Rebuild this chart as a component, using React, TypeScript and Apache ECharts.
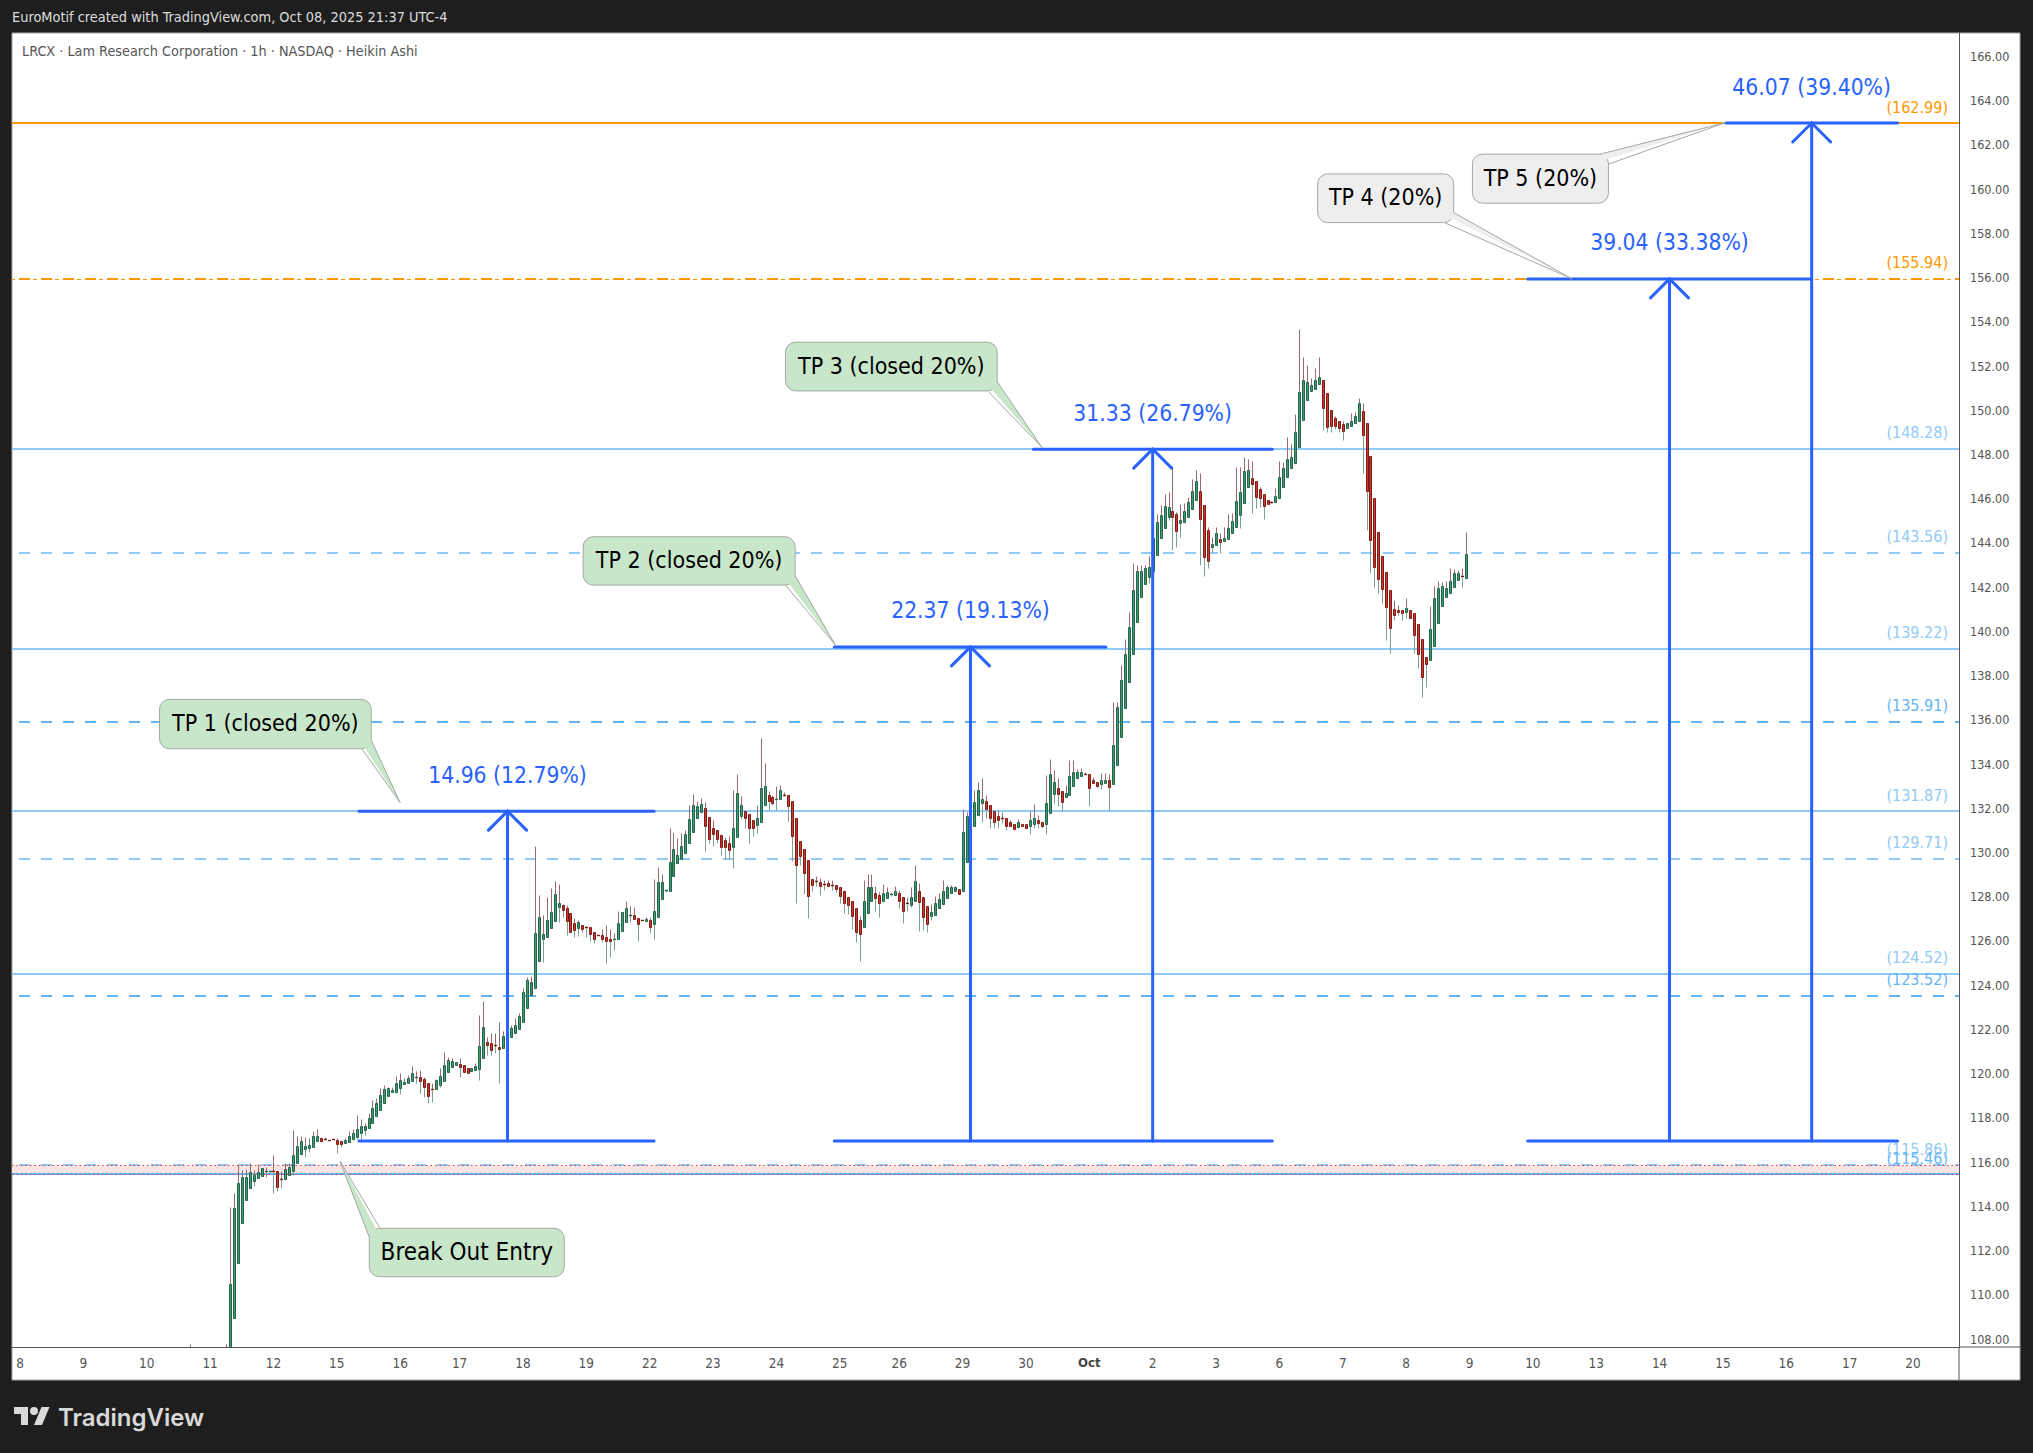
import React, { useEffect, useRef } from 'react';
import * as echarts from 'echarts';

// one bar is one hour, 16 bars per session. 0 is the first bar of Sep 8
const sessionStarts = [0, 16, 32, 48, 64, 80, 96, 111, 127, 143, 159, 175, 191, 207, 222, 238, 254, 270, 286, 302, 318, 334, 350, 366, 382, 398, 414, 430, 446, 462, 478];
const sessionLabels = ['8', '9', '10', '11', '12', '15', '16', '17', '18', '19', '22', '23', '24', '25', '26', '29', '30', 'Oct', '2', '3', '6', '7', '8', '9', '10', '13', '14', '15', '16', '17', '20'];
const priceTicks = [108, 110, 112, 114, 116, 118, 120, 122, 124, 126, 128, 130, 132, 134, 136, 138, 140, 142, 144, 146, 148, 150, 152, 154, 156, 158, 160, 162, 164, 166];

const firstBar = 52;
// [open, close, low, high]
const barsSepA = [
  [107.0, 107.2, 106.5, 107.76], [107.0, 110.47, 107.0, 113.95], [108.93, 113.91, 108.93, 114.59], [111.42, 115.04, 111.42, 115.91],
  [113.23, 115.31, 113.23, 115.64], [114.28, 115.34, 114.28, 115.7], [114.81, 115.54, 114.81, 115.94], [115.16, 115.41, 114.93, 115.64],
  [115.26, 115.54, 115.26, 115.9], [115.38, 115.72, 115.38, 115.72], [115.58, 115.58, 115.35, 115.78], [115.58, 115.58, 115.55, 115.6],
  [115.58, 115.57, 114.62, 116.32], [115.58, 114.89, 114.71, 115.58], [115.22, 115.21, 114.81, 115.6], [115.22, 115.67, 115.2, 115.94],
  [115.41, 115.76, 115.41, 115.94], [115.61, 116.32, 115.41, 117.45], [115.94, 116.73, 115.94, 117.18], [116.35, 116.94, 116.35, 117.18],
  [116.61, 116.73, 116.24, 117.12], [116.64, 116.77, 116.47, 117.07], [116.7, 117.18, 116.7, 117.4], [116.94, 117.18, 116.94, 117.48],
  [117.07, 116.95, 116.9, 117.15], [117.03, 117.02, 117.0, 117.15], [117.0, 116.97, 116.97, 117.0], [117.04, 117.03, 117.03, 117.05],
  [116.98, 116.83, 116.42, 117.07], [116.94, 116.83, 116.7, 116.94], [116.88, 116.98, 116.88, 117.1], [116.92, 117.18, 116.92, 117.42],
  [117.06, 117.33, 117.0, 117.48], [117.15, 117.48, 117.03, 118.13], [117.33, 117.63, 117.06, 117.95], [117.45, 117.63, 117.22, 117.78],
  [117.53, 117.98, 117.53, 118.2], [117.75, 118.46, 117.75, 118.81], [118.1, 118.66, 118.1, 118.88], [118.35, 119.03, 118.35, 119.33],
  [118.69, 119.29, 118.69, 119.49], [119.0, 119.33, 119.0, 119.4], [119.15, 119.26, 119.15, 119.38], [119.18, 119.56, 119.18, 119.89],
  [119.33, 119.71, 119.08, 120.04], [119.55, 119.62, 119.55, 119.8], [119.56, 119.79, 119.56, 119.94], [119.68, 120.01, 119.68, 120.36],
  [119.83, 119.84, 119.56, 120.13], [119.83, 119.67, 119.14, 120.16], [119.77, 119.38, 118.96, 119.83], [119.56, 118.99, 118.69, 119.56],
  [119.29, 119.28, 118.73, 119.56], [119.29, 119.71, 119.29, 119.78], [119.49, 119.91, 119.38, 120.24], [119.68, 120.39, 119.68, 120.96],
  [120.06, 120.62, 120.06, 120.74], [120.31, 120.56, 120.31, 120.69], [120.4, 120.51, 120.4, 120.55], [120.46, 120.28, 119.86, 120.69],
  [120.39, 120.06, 120.06, 120.39], [120.24, 120.04, 120.04, 120.24], [120.13, 120.25, 120.13, 120.25], [120.18, 120.33, 120.18, 120.47],
  [120.22, 121.23, 119.71, 122.65], [120.72, 122.09, 120.72, 123.3], [121.42, 121.31, 120.84, 121.67], [121.37, 121.07, 120.84, 121.82],
  [121.3, 121.29, 120.92, 121.82], [121.22, 121.11, 119.59, 122.35], [121.15, 121.7, 121.15, 121.94], [121.4, 121.94, 121.4, 122.12],
  [121.67, 122.05, 121.67, 122.2], [121.85, 122.2, 121.85, 122.5], [122.0, 122.6, 122.0, 122.73],
];
const barsSepB = [
  [122.32, 123.68, 122.32, 123.86], [122.99, 124.24, 122.99, 124.35], [123.56, 124.13, 123.56, 124.41], [123.86, 126.35, 123.86, 130.3],
  [125.11, 127.07, 125.11, 128.08], [126.07, 126.3, 125.06, 127.17], [126.2, 126.95, 126.2, 128.0], [126.57, 127.29, 126.57, 128.38],
  [126.92, 128.11, 126.92, 128.71], [127.52, 127.73, 126.87, 128.56], [127.64, 127.4, 127.1, 127.67], [127.5, 126.92, 126.27, 127.63],
  [127.25, 126.39, 126.39, 127.25], [126.8, 126.5, 126.2, 127.02], [126.6, 126.84, 126.24, 126.95], [126.74, 126.56, 126.42, 126.74],
  [126.65, 126.57, 126.2, 126.7], [126.62, 126.3, 126.01, 126.62], [126.42, 126.07, 125.92, 126.42], [126.25, 126.24, 126.24, 126.25],
  [126.25, 126.1, 125.97, 126.53], [126.16, 126.01, 125.02, 126.72], [126.07, 125.98, 125.26, 126.53], [126.04, 126.07, 125.59, 126.37],
  [126.07, 126.8, 126.07, 127.35], [126.44, 127.3, 126.44, 127.3], [126.84, 127.47, 126.84, 127.81], [127.17, 127.18, 126.87, 127.58],
  [127.16, 126.98, 126.98, 127.55], [127.05, 126.78, 126.01, 127.05], [126.93, 126.92, 126.9, 126.95], [126.92, 126.98, 126.92, 127.1],
  [126.95, 126.65, 126.37, 127.1], [126.78, 127.34, 126.1, 128.79], [127.07, 128.65, 127.07, 129.36], [127.88, 128.65, 127.88, 129.03],
  [128.29, 128.3, 128.23, 128.3], [128.26, 129.56, 128.26, 131.09], [128.92, 130.14, 128.92, 130.91], [129.51, 129.87, 129.51, 130.64],
  [129.69, 130.28, 129.69, 130.87], [129.96, 130.82, 129.96, 131.02], [130.42, 131.5, 130.42, 132.15], [130.94, 132.15, 130.94, 132.65],
  [131.55, 132.09, 131.55, 132.35], [131.82, 132.18, 131.82, 132.45], [132.0, 131.22, 130.08, 132.3], [131.59, 130.6, 130.41, 131.59],
];
const barsSepC = [
  [131.09, 130.86, 130.29, 131.46], [131.01, 130.62, 130.41, 131.01], [130.81, 130.26, 129.88, 130.85], [130.56, 130.26, 129.7, 130.71],
  [130.41, 130.12, 129.7, 130.74], [130.26, 131.13, 129.31, 132.82], [130.71, 132.67, 130.71, 133.57], [131.67, 132.13, 131.5, 132.55],
  [131.9, 131.57, 131.13, 131.9], [131.76, 131.12, 130.44, 131.76], [131.46, 131.12, 130.74, 131.46], [131.25, 131.54, 130.89, 132.14],
  [131.4, 132.94, 131.4, 135.16], [132.16, 133.03, 132.16, 134.04], [132.62, 132.35, 131.92, 132.77], [132.49, 132.25, 132.16, 132.6],
  [132.38, 132.44, 131.92, 132.99], [132.4, 132.85, 132.4, 133.04], [132.62, 132.61, 132.55, 132.75], [132.62, 132.11, 131.43, 132.62],
  [132.35, 130.75, 129.62, 132.35], [131.58, 129.44, 127.72, 131.58], [130.5, 129.85, 129.44, 130.5], [130.18, 129.08, 128.12, 130.18],
  [129.64, 128.04, 127.04, 129.64], [128.82, 128.54, 128.27, 128.82], [128.73, 128.72, 128.5, 128.93], [128.69, 128.49, 128.09, 128.87],
  [128.58, 128.57, 128.3, 128.75], [128.6, 128.49, 128.49, 128.75], [128.55, 128.54, 128.3, 128.75], [128.55, 128.35, 128.2, 128.55],
  [128.46, 128.04, 127.72, 128.46], [128.24, 127.72, 127.27, 128.3], [128.01, 127.62, 127.2, 128.01], [127.83, 127.13, 126.53, 127.83],
  [127.51, 126.41, 125.96, 127.51], [126.97, 126.32, 125.1, 127.15], [126.65, 127.83, 126.65, 128.75], [127.25, 128.46, 127.25, 129.05],
  [127.83, 128.46, 127.83, 129.05], [128.15, 127.95, 127.35, 128.48], [128.06, 127.72, 127.08, 128.2], [127.83, 128.15, 127.75, 128.57],
  [127.95, 128.2, 127.95, 128.42], [128.1, 128.11, 128.05, 128.2], [128.1, 128.24, 128.1, 128.48], [128.15, 127.83, 127.5, 128.3],
  [128.01, 127.36, 126.81, 128.01], [127.7, 127.69, 127.35, 127.98], [127.63, 127.97, 127.54, 128.42], [127.83, 128.73, 127.83, 129.44],
  [128.28, 127.77, 126.43, 128.64], [128.01, 127.09, 126.48, 128.01], [127.56, 126.77, 126.39, 127.56], [127.13, 127.32, 126.94, 127.67],
  [127.18, 127.74, 127.18, 128.03], [127.5, 127.92, 127.5, 128.15], [127.69, 128.24, 127.69, 128.75], [127.95, 128.42, 127.95, 128.53],
  [128.18, 128.42, 128.18, 128.53], [128.27, 128.42, 128.27, 128.5], [128.36, 128.13, 128.13, 128.36], [128.27, 130.91, 128.27, 131.99],
  [129.59, 131.67, 129.59, 131.85], [130.69, 131.79, 130.69, 131.99], [131.19, 132.28, 131.19, 132.85], [131.72, 132.85, 131.72, 133.2],
  [132.25, 132.4, 131.39, 133.39], [132.35, 131.98, 131.58, 132.59], [132.17, 131.57, 131.12, 132.17], [131.87, 131.39, 131.12, 131.87],
  [131.63, 131.48, 131.12, 131.92], [131.58, 131.57, 131.33, 131.84], [131.58, 131.21, 131.01, 131.58], [131.4, 131.22, 131.22, 131.46],
  [131.31, 131.07, 131.01, 131.31], [131.16, 131.4, 131.1, 131.51], [131.31, 131.21, 131.21, 131.31], [131.27, 131.12, 131.12, 131.27],
  [131.21, 131.45, 130.83, 131.87], [131.28, 131.54, 131.13, 132.19], [131.45, 131.34, 131.09, 131.69], [131.4, 131.21, 131.09, 131.4],
  [131.3, 132.26, 130.83, 133.5], [131.79, 133.57, 131.79, 134.22], [132.65, 133.17, 132.23, 133.72], [132.94, 132.65, 132.1, 133.35],
  [132.8, 132.29, 131.87, 132.8], [132.52, 132.71, 132.52, 133.05], [132.62, 133.44, 132.62, 134.18], [133.02, 133.62, 133.02, 134.18],
  [133.35, 133.62, 133.35, 133.8], [133.47, 133.62, 133.47, 133.83], [133.53, 133.52, 133.5, 133.62], [133.53, 132.93, 132.1, 133.53],
  [133.26, 133.15, 133.15, 133.42], [133.21, 133.03, 132.9, 133.21], [133.11, 133.26, 132.87, 133.59], [133.15, 133.3, 133.15, 133.59],
  [133.26, 132.97, 131.92, 133.57], [133.11, 134.86, 133.11, 136.82],
];
const barsOct = [
  [133.97, 136.57, 133.97, 136.8], [135.24, 137.8, 135.24, 138.48], [136.52, 138.96, 136.52, 139.64], [137.73, 140.18, 137.73, 140.86],
  [138.96, 141.86, 138.96, 143.08], [140.41, 142.72, 140.41, 143.0], [141.57, 142.72, 141.57, 143.0], [142.13, 142.85, 142.13, 143.0],
  [142.48, 142.93, 142.18, 143.41], [142.72, 144.21, 142.72, 145.57], [143.47, 144.93, 143.47, 145.3], [144.21, 145.25, 144.21, 145.72],
  [144.69, 145.66, 144.69, 146.21], [145.16, 145.61, 145.04, 146.29], [145.43, 145.16, 143.68, 147.48], [145.3, 144.56, 143.83, 145.42],
  [144.92, 145.04, 144.29, 145.76], [144.96, 145.43, 144.96, 145.8], [145.19, 145.84, 145.19, 146.1], [145.52, 146.34, 145.52, 146.88],
  [145.93, 146.79, 145.93, 147.3], [146.34, 145.07, 143.0, 147.15], [145.7, 143.38, 142.51, 145.7], [144.57, 143.17, 142.85, 144.74],
  [143.83, 143.94, 143.53, 144.29], [143.89, 144.44, 143.89, 144.74], [144.18, 144.03, 143.56, 144.44], [144.07, 144.21, 144.07, 144.74],
  [144.16, 144.66, 144.16, 145.3], [144.44, 144.98, 144.44, 145.34], [144.71, 145.88, 144.71, 147.45], [145.28, 146.29, 144.66, 147.45],
  [145.79, 147.24, 145.79, 147.9], [146.52, 147.29, 146.52, 147.78], [146.92, 146.65, 145.37, 147.72], [146.79, 146.07, 145.57, 146.79],
  [146.43, 146.02, 145.64, 146.55], [146.2, 145.66, 145.08, 146.2], [145.93, 145.75, 145.75, 145.93], [145.84, 145.83, 145.8, 145.88],
  [145.84, 146.14, 145.84, 146.47], [146.01, 147.0, 146.01, 147.7], [146.52, 147.38, 146.52, 147.68], [146.97, 147.78, 146.97, 148.81],
  [147.38, 147.87, 147.38, 148.48], [147.6, 149.0, 147.6, 149.83], [148.33, 150.81, 148.33, 153.68], [149.55, 151.36, 149.55, 152.4],
  [150.45, 151.27, 150.45, 152.05], [150.86, 151.14, 150.86, 151.45], [150.96, 151.37, 150.96, 151.9], [151.17, 151.49, 151.17, 152.4],
  [151.36, 150.12, 149.11, 151.36], [150.77, 149.23, 149.03, 150.77], [150.0, 149.31, 149.03, 150.0], [149.64, 149.29, 149.17, 149.72],
  [149.5, 149.22, 149.03, 149.5], [149.37, 149.05, 148.66, 149.5], [149.21, 149.44, 149.21, 149.44], [149.31, 149.5, 149.31, 149.86],
  [149.41, 149.73, 149.41, 149.94], [149.53, 150.32, 149.53, 150.54], [149.95, 148.9, 147.15, 150.32], [149.41, 146.37, 144.59, 149.41],
  [147.92, 144.12, 142.63, 147.92], [146.02, 142.93, 142.02, 146.02], [144.48, 142.36, 141.72, 144.48], [143.4, 141.9, 141.27, 143.4],
  [142.67, 141.09, 139.61, 142.67], [141.86, 140.14, 139.04, 141.86], [141.0, 140.76, 140.52, 141.42], [140.98, 140.89, 140.75, 141.2],
  [140.95, 140.82, 140.52, 140.95], [140.88, 141.04, 140.6, 141.5], [140.95, 140.62, 140.62, 140.95], [140.82, 139.85, 139.01, 140.82],
  [140.32, 138.96, 138.33, 140.32], [139.64, 137.95, 137.05, 139.64], [138.83, 138.51, 137.5, 138.83], [138.69, 140.09, 138.69, 141.15],
  [139.36, 141.5, 139.36, 142.05], [140.4, 141.95, 140.4, 142.28], [141.16, 142.04, 141.16, 142.25], [141.57, 141.95, 141.57, 142.28],
  [141.75, 142.27, 141.75, 142.85], [142.02, 142.63, 142.02, 142.81], [142.34, 142.63, 142.34, 142.78], [142.49, 142.48, 142.02, 142.85],
  [142.43, 143.49, 142.43, 144.48],
];
// stray wick left of the first visible run
const earlyBars = [[43, 106.9, 106.8, 106.6, 107.78]];

const levelValues = [162.99, 155.94, 148.28, 143.56, 139.22, 135.91, 131.87, 129.71, 124.52, 123.52, 115.86, 115.46];
const levelColors = ['#ff9800', '#ff9800', '#90caf9', '#90caf9', '#90caf9', '#64b5f6', '#90caf9', '#90caf9', '#90caf9', '#64b5f6', '#90caf9', '#64b5f6'];
const levelDashed = [false, true, false, true, false, true, false, true, false, true, true, false];

// vertical bar, top price, horizontal run of the top line
const measureBars = [123.1, 240.0, 286.0, 416.5, 452.4];
const measureTops = [131.87, 139.3, 148.24, 155.94, 162.99];
const measureLefts = [85.6, 205.6, 255.9, 380.7, 430.7];
const measureRights = [160.1, 274.2, 316.2, 452.4, 474.1];
const measureTexts = ['14.96 (12.79%)', '22.37 (19.13%)', '31.33 (26.79%)', '39.04 (33.38%)', '46.07 (39.40%)'];
const entryPrice = 116.95;
const entryRuns = [[85.6, 160.1], [205.6, 316.2], [380.7, 474.1]];

const noteTexts = ['Break Out Entry', 'TP 1 (closed 20%)', 'TP 2 (closed 20%)', 'TP 3 (closed 20%)', 'TP 4 (20%)', 'TP 5 (20%)'];
const noteTipBars = [80.8, 96, 205.9, 258.1, 391.9, 430.7];
const noteTipPrices = [116.05, 132.25, 139.38, 148.31, 155.94, 163.01];
const noteFills = ['#c8e6c9', '#c8e6c9', '#c8e6c9', '#c8e6c9', '#eeeeee', '#eeeeee'];
const noteFontSizes = [24, 23, 23, 23, 23, 23];
// box left, top, width, height, then two points where the tail leaves it, all in px from the tip
const noteBoxes = [
  [29.3, 67.3, 195, 48.4, 29.3, 76.3, 40, 67.3],
  [-240.7, -103.4, 211.7, 49.4, -29, -62.7, -38.3, -54],
  [-252.3, -108.3, 212, 48.3, -40.3, -69.3, -50, -60],
  [-256.7, -105.4, 211.7, 48.7, -45, -66, -54.4, -56.7],
  [-254.4, -105, 136, 48.7, -118.4, -66.3, -127.7, -56.3],
  [-253.3, 31.6, 136, 49, -125.7, 31.6, -117.3, 41.6],
];

const FONT = '"DejaVu Sans Condensed", "DejaVu Sans", sans-serif';
const BLUE = '#2962ff';

echarts.graphic.registerShape(
  'tvMark',
  echarts.graphic.extendPath('M14 22H7V11H0V4h14v18zM28 22h-8l7.5-18h8L28 22zM16 8a4 4 0 1 0 8 0a4 4 0 1 0 -8 0z', {}),
);

function candleItem(_params: any, api: any) {
  const bar = api.value(0);
  const open = api.value(1);
  const close = api.value(2);
  const px = (v: number) => api.coord([bar, v]);
  const cx = Math.round(px(open)[0]) + 0.5;
  const snap = (v: number) => Math.round(px(v)[1]) + 0.5;
  const yTop = snap(Math.max(open, close));
  const yBot = snap(Math.min(open, close));
  const up = close >= open;
  const kids: any[] = [
    { type: 'line', shape: { x1: cx, y1: snap(api.value(4)), x2: cx, y2: yTop }, style: { stroke: '#9c6a6a', lineWidth: 1 } },
    { type: 'line', shape: { x1: cx, y1: yBot, x2: cx, y2: snap(api.value(3)) }, style: { stroke: '#7f9f90', lineWidth: 1 } },
  ];
  if (yBot - yTop < 1.5) {
    kids.push({ type: 'line', shape: { x1: cx - 1.5, y1: yTop, x2: cx + 1.5, y2: yTop }, style: { stroke: up ? '#25664b' : '#7a1f17', lineWidth: 1.4 } });
  } else {
    kids.push({
      type: 'rect',
      shape: { x: cx - 1, y: yTop, width: 2, height: yBot - yTop },
      style: { fill: up ? '#3f9a70' : '#d6332a', stroke: up ? '#25664b' : '#7a1f17', lineWidth: 1 },
    });
  }
  return { type: 'group', children: kids };
}

function measureItem(params: any, api: any) {
  const i = params.dataIndex;
  const p = api.coord([measureBars[i], measureTops[i]]);
  const bottom = api.coord([measureBars[i], entryPrice])[1];
  const left = api.coord([measureLefts[i], measureTops[i]])[0];
  const right = api.coord([measureRights[i], measureTops[i]])[0];
  const line = { stroke: BLUE, lineWidth: 3, lineCap: 'round' };
  return {
    type: 'group',
    children: [
      { type: 'line', shape: { x1: p[0], y1: p[1], x2: p[0], y2: bottom }, style: line },
      { type: 'line', shape: { x1: left, y1: p[1], x2: right, y2: p[1] }, style: line },
      { type: 'polyline', shape: { points: [[p[0] - 19, p[1] + 19], [p[0], p[1]], [p[0] + 19, p[1] + 19]] }, style: { ...line, fill: 'none' } },
      { type: 'text', style: { x: p[0], y: p[1] - 36.5, text: measureTexts[i], fill: BLUE, fontSize: 22.7, fontFamily: FONT, align: 'center', verticalAlign: 'middle' } },
    ],
  };
}

function entryItem(params: any, api: any) {
  const run = entryRuns[params.dataIndex];
  const a = api.coord([run[0], entryPrice]);
  const b = api.coord([run[1], entryPrice]);
  return { type: 'line', shape: { x1: a[0], y1: a[1], x2: b[0], y2: b[1] }, style: { stroke: BLUE, lineWidth: 3, lineCap: 'round' } };
}

function noteItem(params: any, api: any) {
  const i = params.dataIndex;
  const tip = api.coord([noteTipBars[i], noteTipPrices[i]]);
  const [bx, by, bw, bh, ax, ay, cx, cy] = noteBoxes[i];
  const t = (dx: number, dy: number) => [tip[0] + dx, tip[1] + dy];
  const edge = '#a3a8a3';
  return {
    type: 'group',
    children: [
      { type: 'rect', shape: { x: tip[0] + bx, y: tip[1] + by, width: bw, height: bh, r: 10 }, style: { fill: noteFills[i], stroke: edge, lineWidth: 1 } },
      { type: 'polygon', shape: { points: [t(0, 0), t(ax, ay), t(cx, cy), t((ax + cx) / 2 + (bx + bw / 2 - (ax + cx) / 2) * 0.05, (ay + cy) / 2 + (by + bh / 2 - (ay + cy) / 2) * 0.1)] }, style: { fill: noteFills[i] } },
      { type: 'polyline', shape: { points: [t(ax, ay), t(0, 0), t(cx, cy)] }, style: { fill: 'none', stroke: edge, lineWidth: 1 } },
      { type: 'text', style: { x: tip[0] + bx + bw / 2, y: tip[1] + by + bh / 2 - 1, text: noteTexts[i], fill: '#000', fontSize: noteFontSizes[i], fontFamily: FONT, align: 'center', verticalAlign: 'middle' } },
    ],
  };
}

export default function App() {
  const elRef = useRef<HTMLDivElement | null>(null);

  useEffect(() => {
    if (!elRef.current) return;
    document.body.style.margin = '0';
    document.body.style.background = '#1e1e1e';
    const chart = echarts.init(elRef.current, null, { renderer: 'svg' });

    const bars = [...barsSepA, ...barsSepB, ...barsSepC, ...barsOct].map((b, i) => [firstBar + i, ...b]);
    const labelByStart = new Map(sessionStarts.map((s, i) => [s, sessionLabels[i]]));

    const levelLines: any[] = levelValues.map((v, i) => ({
      yAxis: v,
      lineStyle: {
        color: levelColors[i],
        width: levelDashed[i] || i < 2 ? 2 : 1.8,
        type: levelDashed[i] ? [11, 11] : 'solid',
        dashOffset: 15,
      },
      label: { color: levelColors[i] },
    }));
    const dotLines = [115.86, 115.46].map((v) => ({
      yAxis: v,
      lineStyle: { color: '#e53935', width: 1, type: [1.5, 3] },
      label: { show: false },
    }));
    // the short tick between the long dashes of the 155.94 line
    const orangeTick = {
      yAxis: 155.94,
      lineStyle: { color: '#ff9800', width: 1, type: [4, 18], dashOffset: 1 },
      label: { show: false },
    };

    const opt: any = {
      animation: false,
      backgroundColor: '#1e1e1e',
      textStyle: { fontFamily: FONT },
      grid: { left: 12, top: 33, width: 1947, height: 1314, containLabel: false },
      xAxis: {
        type: 'value',
        min: -2.02,
        max: 489.6,
        splitLine: { show: false },
        axisTick: { show: false },
        axisLine: { show: true, onZero: false, lineStyle: { color: '#555', width: 1 } },
        axisLabel: {
          customValues: sessionStarts,
          color: '#555',
          fontSize: 13.5,
          fontFamily: FONT,
          margin: 9,
          formatter: (v: number) => {
            const s = labelByStart.get(v) ?? '';
            return s === 'Oct' ? `{b|${s}}` : s;
          },
          rich: { b: { fontWeight: 'bold', color: '#444', fontSize: 13, fontFamily: FONT } },
        },
      },
      yAxis: {
        type: 'value',
        position: 'right',
        min: 107.64,
        max: 167.06,
        splitLine: { show: false },
        axisTick: { show: false },
        axisLine: { show: true, onZero: false, lineStyle: { color: '#555', width: 1 } },
        axisLabel: {
          customValues: priceTicks,
          color: '#555',
          fontSize: 12.5,
          fontFamily: FONT,
          margin: 11,
          formatter: (v: number) => v.toFixed(2),
        },
      },
      graphic: [
        { type: 'rect', z: -5, shape: { x: 12, y: 33, width: 2008, height: 1347 }, style: { fill: '#fff', stroke: '#a8a8a8', lineWidth: 1 } },
        { type: 'line', z: 1, shape: { x1: 1959, y1: 1347, x2: 1959, y2: 1380 }, style: { stroke: '#555', lineWidth: 1 } },
        { type: 'line', z: 1, shape: { x1: 1959, y1: 1347, x2: 2020, y2: 1347 }, style: { stroke: '#555', lineWidth: 1 } },
        { type: 'text', style: { x: 12, y: 17, text: 'EuroMotif created with TradingView.com, Oct 08, 2025 21:37 UTC-4', fill: '#dcdcdc', fontSize: 14.4, fontFamily: FONT, verticalAlign: 'middle' } },
        { type: 'text', z: 6, style: { x: 22, y: 51, text: 'LRCX · Lam Research Corporation · 1h · NASDAQ · Heikin Ashi', fill: '#555', fontSize: 14.3, fontFamily: FONT, verticalAlign: 'middle' } },
        { type: 'tvMark', x: 14, y: 1403, style: { fill: '#d9d9d9' } },
        { type: 'text', style: { x: 58, y: 1417, text: 'TradingView', fill: '#d9d9d9', fontSize: 24, fontWeight: 600, fontFamily: 'Inter, sans-serif', verticalAlign: 'middle' } },
      ],
      series: [
        {
          name: 'levels',
          type: 'line',
          z: 1,
          data: [],
          silent: true,
          markArea: {
            silent: true,
            z: 1,
            itemStyle: { color: '#fbe4e4' },
            data: [[{ yAxis: 115.86 }, { yAxis: 115.46 }]],
          },
          markLine: {
            silent: true,
            z: 1,
            symbol: ['none', 'none'],
            precision: 2,
            label: {
              show: true,
              position: 'insideEndTop',
              distance: [11, 8],
              fontSize: 16,
              fontFamily: FONT,
              formatter: (p: any) => `(${Number(p.value).toFixed(2)})`,
            },
            data: [...levelLines, orangeTick, ...dotLines],
          },
        },
        {
          name: 'LRCX',
          type: 'custom',
          z: 3,
          clip: true,
          silent: true,
          renderItem: candleItem,
          encode: { x: 0, y: [1, 2, 3, 4] },
          data: [...earlyBars, ...bars],
        },
        {
          name: 'entry',
          type: 'custom',
          z: 4,
          silent: true,
          renderItem: entryItem,
          encode: { x: 0, y: 1 },
          data: entryRuns.map((r) => [r[0], entryPrice]),
        },
        {
          name: 'measure',
          type: 'custom',
          z: 4,
          silent: true,
          renderItem: measureItem,
          encode: { x: 0, y: 1 },
          data: measureBars.map((b, i) => [b, measureTops[i]]),
        },
        {
          name: 'notes',
          type: 'custom',
          z: 5,
          silent: true,
          renderItem: noteItem,
          encode: { x: 0, y: 1 },
          data: noteTipBars.map((b, i) => [b, noteTipPrices[i]]),
        },
      ],
    };

    chart.setOption(opt);
    return () => chart.dispose();
  }, []);

  return <div ref={elRef} style={{ position: 'absolute', left: 0, top: 0, width: 2033, height: 1453 }} />;
}
